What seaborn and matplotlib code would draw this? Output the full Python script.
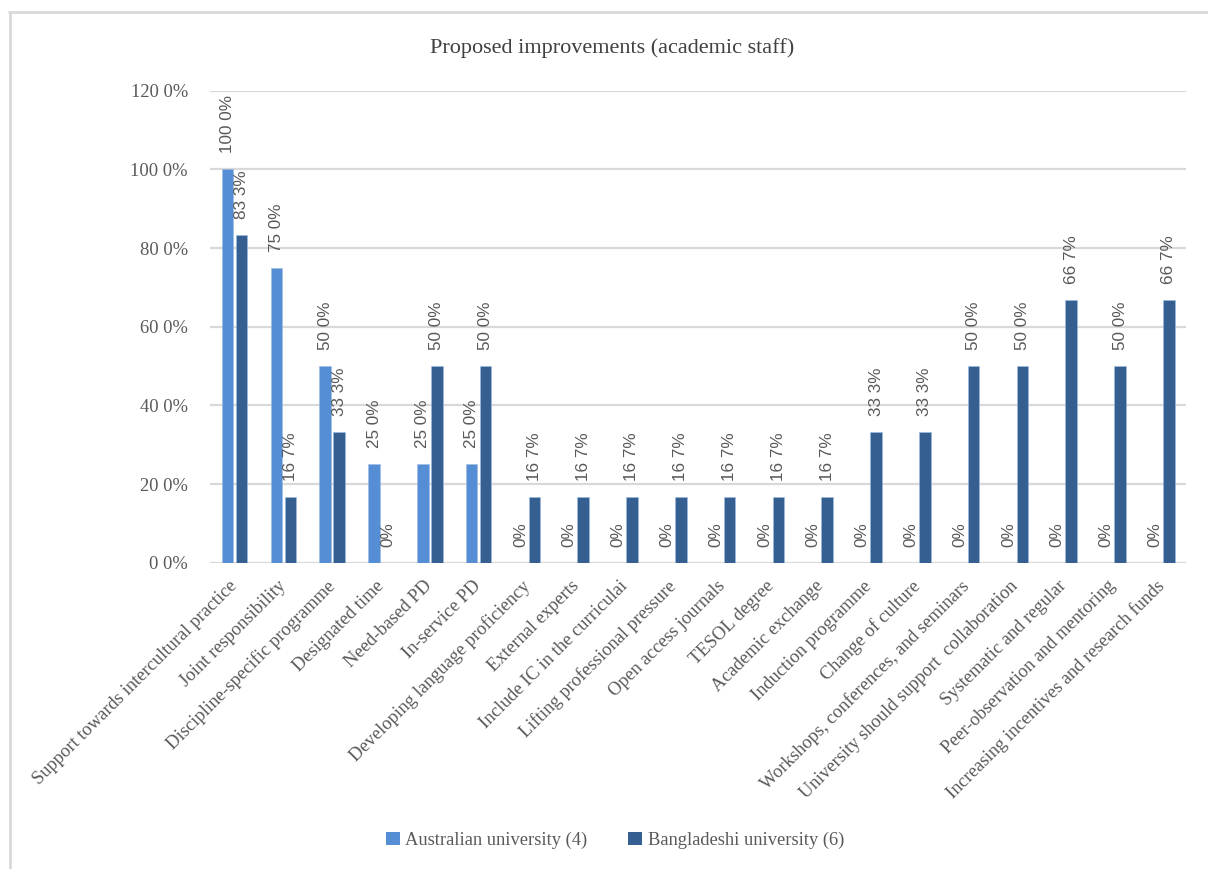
import matplotlib
matplotlib.use("Agg")
import matplotlib.pyplot as plt
from matplotlib.lines import Line2D
from matplotlib.patches import Patch
import seaborn as sns
import pandas as pd

categories = [
    "Support towards intercultural practice",
    "Joint responsibility",
    "Discipline-specific programme",
    "Designated time",
    "Need-based PD",
    "In-service PD",
    "Developing language proficiency",
    "External experts",
    "Include IC in the curriculai",
    "Lifting professional pressure",
    "Open access journals",
    "TESOL degree",
    "Academic exchange",
    "Induction programme",
    "Change of culture",
    "Workshops, conferences, and seminars",
    "University should support  collaboration",
    "Systematic and regular",
    "Peer-observation and mentoring",
    "Increasing incentives and research funds",
]
australian = [100.0, 75.0, 50.0, 25.0, 25.0, 25.0, 0, 0, 0, 0, 0, 0, 0, 0, 0, 0, 0, 0, 0, 0]
bangladeshi = [83.3, 16.7, 33.3, 0, 50.0, 50.0, 16.7, 16.7, 16.7, 16.7, 16.7, 16.7, 16.7,
               33.3, 33.3, 50.0, 50.0, 66.7, 50.0, 66.7]
series_names = ["Australian university (4)", "Bangladeshi university (6)"]
y_ticks = [0, 20, 40, 60, 80, 100, 120]
y_tick_labels = ["0 0%", "20 0%", "40 0%", "60 0%", "80 0%", "100 0%", "120 0%"]
title = "Proposed improvements (academic staff)"

colors = ["#558ED5", "#355F91"]
text_gray = "#595959"
grid_gray = "#D9D9D9"

df = pd.DataFrame({
    "category": categories * 2,
    "value": australian + bangladeshi,
    "series": [series_names[0]] * len(categories) + [series_names[1]] * len(categories),
})

sns.set_theme(style="white")
plt.rcParams["font.family"] = ["Liberation Serif", "DejaVu Serif"]

fig = plt.figure(figsize=(12.08, 8.69), dpi=100)
ax = fig.add_axes([0.174, 0.3525, 0.808, 0.5431])

sns.barplot(data=df, x="category", y="value", hue="series", order=categories,
            hue_order=series_names, palette=colors, width=0.572, gap=0.175,
            saturation=1, legend=False, ax=ax, errorbar=None)

for bar in ax.patches:
    bar.set_edgecolor("#9DBBE3")
    bar.set_linewidth(0.4)


def fmt(v):
    if v == 0:
        return "0%"
    return f"{v:.1f}%".replace(".", " ")


for cont in ax.containers:
    ax.bar_label(cont, labels=[fmt(b.get_height()) for b in cont], rotation=90,
                 padding=11.5, fontsize=12.3, color=text_gray,
                 family=["Liberation Sans", "DejaVu Sans"])

ax.set_xlim(-0.5, len(categories) - 0.5)
ax.set_ylim(0, 120)
ax.set_yticks(y_ticks)
ax.set_yticklabels(y_tick_labels, fontsize=13.3, color=text_gray)
ax.set_xticks(range(len(categories)))
ax.set_xticklabels(categories, rotation=45, ha="right", va="center",
                   rotation_mode="anchor", fontsize=13.3, color=text_gray)
ax.tick_params(axis="x", length=0, pad=15)
ax.tick_params(axis="y", length=0, pad=16)
ax.set_xlabel("")
ax.set_ylabel("")
for s in ax.spines.values():
    s.set_visible(False)
ax.yaxis.grid(True, color=grid_gray, linewidth=1.6)
ax.xaxis.grid(False)
ax.set_axisbelow(True)

fig.text(0.5066, 0.945, title, ha="center", va="center", fontsize=16, color="#404040")

handles = [Patch(facecolor=c, edgecolor="none") for c in colors]
fig.legend(handles, series_names, loc="center", bbox_to_anchor=(0.509, 0.033),
           ncol=2, frameon=False, fontsize=13.3, handlelength=0.75, handleheight=0.75,
           handletextpad=0.3, columnspacing=2.2, labelcolor=text_gray)

# outer frame (top and left edges)
fig.add_artist(Line2D([9 / 1208, 1.0], [1 - 12 / 869, 1 - 12 / 869],
                      transform=fig.transFigure, color=grid_gray, linewidth=2))
fig.add_artist(Line2D([10 / 1208, 10 / 1208], [0.0, 1 - 12 / 869],
                      transform=fig.transFigure, color=grid_gray, linewidth=2))

fig.savefig("out.png", dpi=100, facecolor="white")
